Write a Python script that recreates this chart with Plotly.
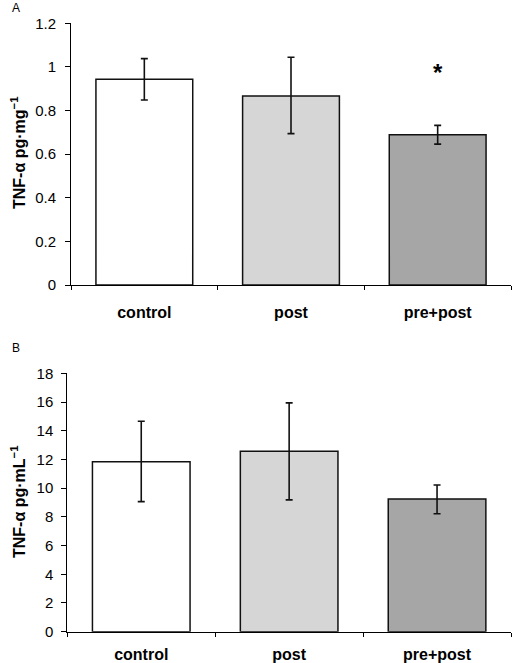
import plotly.graph_objects as go

categories = ["control", "post", "pre+post"]
colors = ["#ffffff", "#d6d6d6", "#a6a6a6"]

a_values = [0.943, 0.867, 0.689]
a_err_plus = [0.095, 0.177, 0.043]
a_err_minus = [0.095, 0.173, 0.043]

b_values = [11.83, 12.57, 9.25]
b_err_plus = [2.83, 3.37, 0.97]
b_err_minus = [2.77, 3.39, 1.03]

a_ticks = [0, 0.2, 0.4, 0.6, 0.8, 1, 1.2]
b_ticks = [0, 2, 4, 6, 8, 10, 12, 14, 16, 18]

W, H = 512, 663


def px_x(p):
    return p / W


def px_y(p):
    return 1 - p / H


fig = go.Figure()

fig.add_trace(go.Bar(
    x=categories, y=a_values, xaxis="x", yaxis="y",
    marker=dict(color=colors, line=dict(color="#111111", width=1.5)),
    width=0.66,
    error_y=dict(type="data", symmetric=False, array=a_err_plus, arrayminus=a_err_minus,
                 color="#111111", thickness=1.6, width=3.5),
    showlegend=False, hoverinfo="skip",
))
fig.add_trace(go.Bar(
    x=categories, y=b_values, xaxis="x2", yaxis="y2",
    marker=dict(color=colors, line=dict(color="#111111", width=1.5)),
    width=0.66,
    error_y=dict(type="data", symmetric=False, array=b_err_plus, arrayminus=b_err_minus,
                 color="#111111", thickness=1.6, width=3.5),
    showlegend=False, hoverinfo="skip",
))

FAM = "Liberation Sans, Arial, sans-serif"
font = dict(family=FAM, size=14, color="#000000")
xcommon = dict(type="category", range=[-0.5, 2.5], showline=True, linecolor="#000000", linewidth=1,
               ticks="outside", tickson="boundaries", ticklen=4, tickcolor="#000000",
               showgrid=False, zeroline=False, automargin=False,
               tickfont=dict(family=FAM, size=16, color="#000000"))
ycommon = dict(showline=True, linecolor="#000000", linewidth=1, ticks="outside", ticklen=5,
               tickcolor="#000000", showgrid=False, zeroline=False, automargin=False,
               tickfont=dict(family=FAM, size=15, color="#000000"))

fig.update_layout(
    width=W, height=H,
    margin=dict(l=0, r=0, t=0, b=0, pad=0, autoexpand=False),
    paper_bgcolor="white", plot_bgcolor="white",
    font=font,
    xaxis=dict(domain=[px_x(71), px_x(511)], anchor="y", ticklabelstandoff=13,
               tickvals=categories, ticktext=["<b>%s</b>" % c for c in categories], **xcommon),
    yaxis=dict(domain=[px_y(285), px_y(23.3)], anchor="x", range=[0, 1.2], ticklabelstandoff=6,
               tickvals=a_ticks, ticktext=[str(t) for t in a_ticks], **ycommon),
    xaxis2=dict(domain=[px_x(67.3), px_x(511)], anchor="y2", ticklabelstandoff=8,
                tickvals=categories, ticktext=["<b>%s</b>" % c for c in categories], **xcommon),
    yaxis2=dict(domain=[px_y(631.7), px_y(373.3)], anchor="x2", range=[0, 18], ticklabelstandoff=5,
                tickvals=b_ticks, ticktext=[str(t) for t in b_ticks], **ycommon),
)

annotations = [
    dict(text="A", x=px_x(10), y=px_y(8), xref="paper", yref="paper", showarrow=False,
         xanchor="left", yanchor="middle", font=dict(size=12)),
    dict(text="B", x=px_x(10), y=px_y(348), xref="paper", yref="paper", showarrow=False,
         xanchor="left", yanchor="middle", font=dict(size=12)),
    dict(text="<b>TNF-α pg·mg<sup>−1</sup></b>", x=px_x(18), y=px_y(153), xref="paper", yref="paper",
         showarrow=False, textangle=-90, xanchor="center", yanchor="middle", font=dict(size=16)),
    dict(text="<b>TNF-α pg·mL<sup>−1</sup></b>", x=px_x(18), y=px_y(502), xref="paper", yref="paper",
         showarrow=False, textangle=-90, xanchor="center", yanchor="middle", font=dict(size=16)),
    dict(text="<b>*</b>", x="pre+post", y=0.975, xref="x", yref="y", showarrow=False,
         xanchor="center", yanchor="middle", font=dict(size=24)),
]
fig.update_layout(annotations=annotations)

fig.write_html(
    "out.html",
    config={"displayModeBar": False},
    post_script="document.body.style.margin='0';document.body.style.overflow='hidden';",
)
